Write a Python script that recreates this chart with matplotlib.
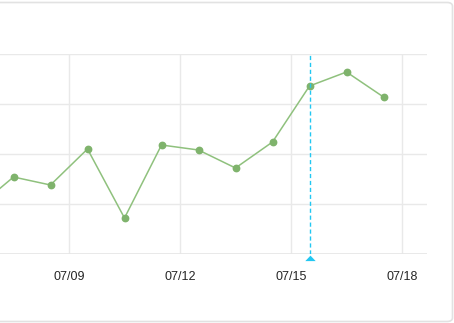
import matplotlib
matplotlib.use("Agg")
import matplotlib.pyplot as plt
from matplotlib.patches import FancyBboxPatch
import pandas as pd

# data (points sit at mid-day)
dates = ["2024-07-06 12:00", "2024-07-07 12:00", "2024-07-08 12:00", "2024-07-09 12:00",
         "2024-07-10 12:00", "2024-07-11 12:00", "2024-07-12 12:00", "2024-07-13 12:00",
         "2024-07-14 12:00", "2024-07-15 12:00", "2024-07-16 12:00", "2024-07-17 12:00"]
values = [0.92, 1.54, 1.38, 2.10, 0.72, 2.18, 2.08, 1.72, 2.24, 3.36, 3.64, 3.14]
tick_days = ["2024-07-09", "2024-07-12", "2024-07-15", "2024-07-18"]
tick_labels = ["07/09", "07/12", "07/15", "07/18"]
cursor_at = "2024-07-15 12:00"

x = pd.to_datetime(dates)
ticks = pd.to_datetime(tick_days)

plt.rcParams['font.family'] = ['Liberation Sans', 'DejaVu Sans']

W, H = 454, 323
fig = plt.figure(figsize=(W / 100, H / 100), dpi=100)
fig.patch.set_facecolor("white")

# card outline, left side runs off the picture
card = FancyBboxPatch((-20 / W, 1.5 / H), (452.5 + 20) / W, (320.5 - 1.5) / H,
                      boxstyle="round,pad=0,rounding_size=0.012",
                      transform=fig.transFigure, facecolor="none",
                      edgecolor="#e2e2e2", linewidth=1.2, zorder=0)
fig.patches.append(card)

ax = fig.add_axes([0, (H - 254) / H, 427 / W, 200 / H])
ax.set_facecolor("none")

# x scale: 07/09 tick at pixel 69, 37 px per day
day = pd.Timedelta(days=1)
left = ticks[0] - day * (69 / 37)
right = ticks[0] + day * ((427 - 69) / 37)
ax.set_xlim(left, right)
ax.set_ylim(0, 4)

ax.set_yticks([0, 1, 2, 3, 4])
ax.set_xticks(ticks)
ax.set_xticklabels(tick_labels)
ax.grid(True, color="#e9e9e9", linewidth=1)
ax.set_axisbelow(True)
for s in ax.spines.values():
    s.set_visible(False)
ax.axhline(0, color="#e6e6e6", linewidth=1.2, zorder=1)
ax.tick_params(axis="both", length=0)
ax.tick_params(axis="y", labelleft=False)
ax.tick_params(axis="x", pad=12, labelsize=9, labelcolor="#262626")

ax.plot(x, values, color="#8fc17d", linewidth=1.1, marker="o", markersize=4.6,
        markerfacecolor="#7fb36c", markeredgecolor="#7fb36c", zorder=3)

# hover cursor with a flat triangle at the foot
cx = pd.to_datetime(cursor_at)
ax.axvline(cx, color="#22c7f2", linewidth=1, linestyle=(0, (3, 2)), zorder=4)
flat_tri = [(-1, -0.5), (1, -0.5), (0, 0.55), (-1, -0.5)]
ax.plot([cx], [-0.07], marker=flat_tri, markersize=7.5, color="#22c7f2",
        markeredgewidth=0, clip_on=False, zorder=5)

fig.savefig("out.png", dpi=100)
